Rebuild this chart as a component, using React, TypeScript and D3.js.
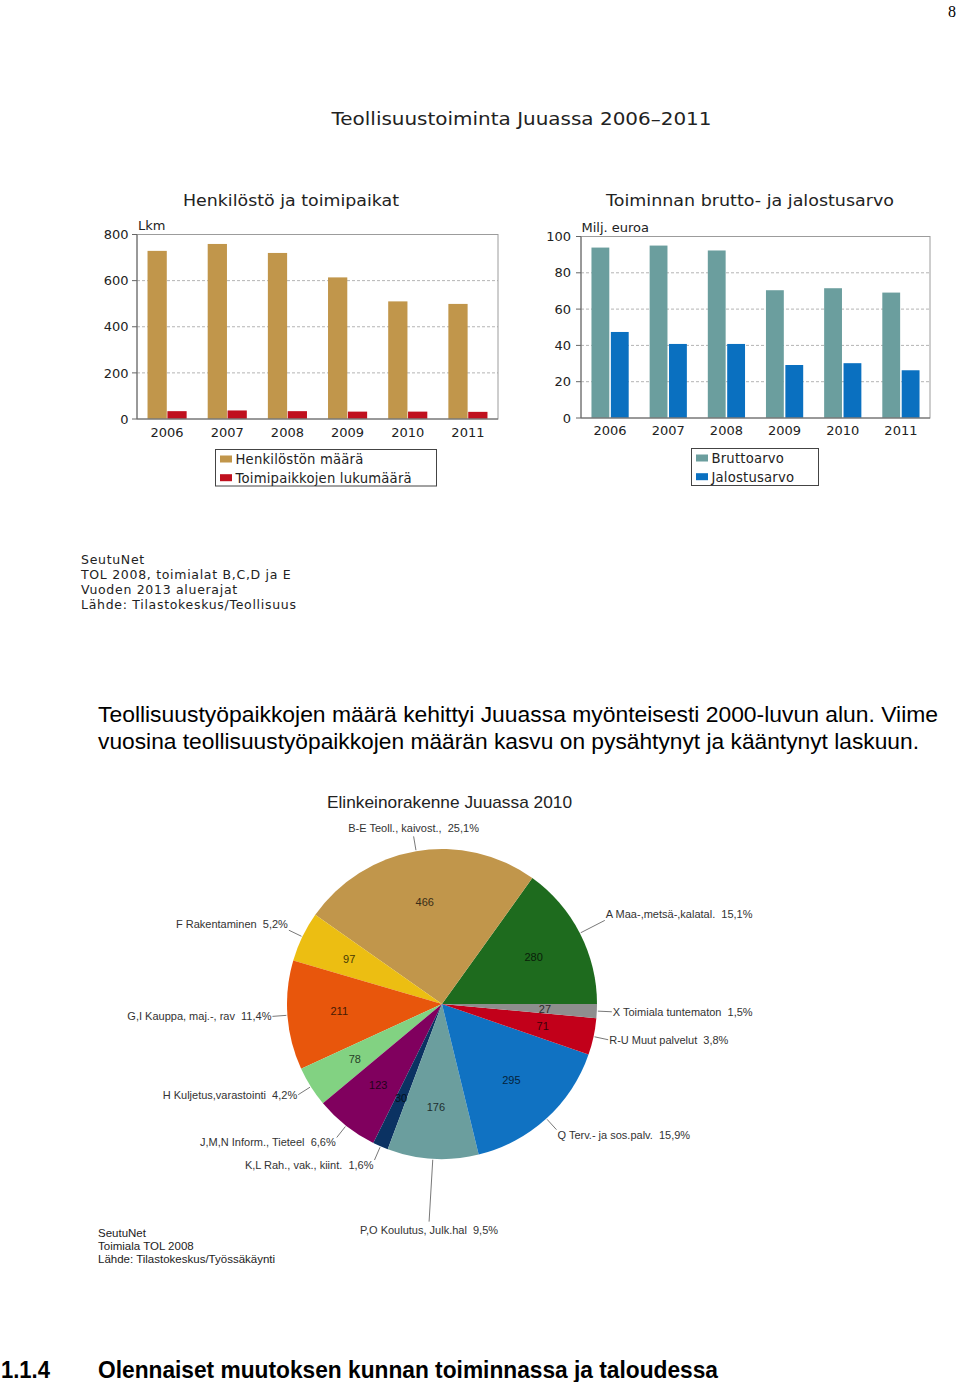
import React from "react";
import * as d3 from "d3";

// ---------- DATA ----------
const years = ["2006", "2007", "2008", "2009", "2010", "2011"];
const henkilostonMaara = [729, 759, 720, 614, 510, 499];
const toimipaikkojenLukumaara = [34, 37, 34, 32, 32, 31];
const personnelTicks = [0, 200, 400, 600, 800];

const bruttoarvo = [93.9, 95.0, 92.3, 70.4, 71.5, 69.1];
const jalostusarvo = [47.4, 40.8, 40.8, 29.2, 30.2, 26.3];
const valueTicks = [0, 20, 40, 60, 80, 100];

const sectorNames = [
  "A Maa-,metsä-,kalatal.",
  "B-E Teoll., kaivost.,",
  "F Rakentaminen",
  "G,I Kauppa, maj.-, rav",
  "H Kuljetus,varastointi",
  "J,M,N Inform., Tieteel",
  "K,L Rah., vak., kiint.",
  "P,O Koulutus, Julk.hal",
  "Q Terv.- ja sos.palv.",
  "R-U Muut palvelut",
  "X Toimiala tuntematon",
];
const sectorJobs = [280, 466, 97, 211, 78, 123, 30, 176, 295, 71, 27];
const sectorColors = [
  "#1E6B1E", "#C1964B", "#ECBE12", "#E8560C", "#82D282", "#80005E",
  "#0B3262", "#6B9E9E", "#1072C2", "#C2001A", "#8E8E8E",
];

const W = 960;
const H = 1382;
const SANS_V = "'DejaVu Sans', Verdana, sans-serif";
const ARIAL = "'Liberation Sans', Arial, sans-serif";

type BarProps = {
  left: number; right: number; top: number; bottom: number;
  maxV: number; ticks: number[];
  series: number[][]; colors: string[]; names: string[];
  title: string; titleX: number; titleW: number;
  unit: string; unitX: number; unitY: number;
  yearBaseline: number; tickRight: number;
  padInner: number; padOuter: number; barGap: number;
  legend: { x: number; y: number; w: number; h: number };
};

function GroupedBars(p: BarProps) {
  const x = d3.scaleBand<string>().domain(years).range([p.left, p.right])
    .paddingInner(p.padInner).paddingOuter(p.padOuter);
  const xi = d3.scaleBand<string>().domain(p.series.map((_, i) => String(i)))
    .range([0, x.bandwidth()]).paddingInner(p.barGap);
  const y = d3.scaleLinear().domain([0, p.maxV]).range([p.bottom, p.top]);
  return (
    <g>
      <text x={p.titleX} y={206} fontFamily={SANS_V} fontSize={15.5} fill="#222"
        textLength={p.titleW} lengthAdjust="spacingAndGlyphs">{p.title}</text>
      <text x={p.unitX} y={p.unitY} fontFamily={SANS_V} fontSize={13} fill="#222">{p.unit}</text>
      {p.ticks.filter((t) => t !== 0 && t !== p.maxV).map((t) => (
        <line key={"g" + t} x1={p.left} x2={p.right} y1={y(t)} y2={y(t)}
          stroke="#b4b4b4" strokeWidth={1} strokeDasharray="3,2" />
      ))}
      {p.series.map((vals, si) =>
        years.map((yr, i) => (
          <rect key={si + "-" + yr} x={(x(yr) as number) + (xi(String(si)) as number)}
            y={y(vals[i])} width={xi.bandwidth()} height={p.bottom - y(vals[i])}
            fill={p.colors[si]} />
        ))
      )}
      <rect x={p.left} y={p.top} width={p.right - p.left} height={p.bottom - p.top}
        fill="none" stroke="#9c9c9c" strokeWidth={1} />
      <line x1={p.left} x2={p.left} y1={p.top} y2={p.bottom} stroke="#666" />
      <line x1={p.left} x2={p.right} y1={p.bottom} y2={p.bottom} stroke="#666" />
      {p.ticks.map((t) => (
        <g key={"t" + t}>
          <line x1={p.left - 5} x2={p.left} y1={y(t)} y2={y(t)} stroke="#666" />
          <text x={p.tickRight} y={y(t)} dy="0.36em" textAnchor="end"
            fontFamily={SANS_V} fontSize={13} fill="#222">{t}</text>
        </g>
      ))}
      {years.map((yr) => (
        <text key={"x" + yr} x={(x(yr) as number) + x.bandwidth() / 2} y={p.yearBaseline}
          textAnchor="middle" fontFamily={SANS_V} fontSize={13} fill="#222">{yr}</text>
      ))}
      <rect x={p.legend.x} y={p.legend.y} width={p.legend.w} height={p.legend.h}
        fill="#fff" stroke="#444" strokeWidth={1} />
      {p.names.map((n, i) => (
        <g key={"l" + i}>
          <rect x={p.legend.x + 4.5} y={p.legend.y + 6 + i * 18.7} width={12} height={7}
            fill={p.colors[i]} />
          <text x={p.legend.x + 20} y={p.legend.y + 14 + i * 19} fontFamily={SANS_V}
            fontSize={13.2} fill="#222" letterSpacing={0.2}>{n}</text>
        </g>
      ))}
    </g>
  );
}

function Pie() {
  const cx = 442, cy = 1004, R = 155, labelR = 103;
  const total = d3.sum(sectorJobs);
  const pie = d3.pie<number>().sort(null).value((d) => d)
    .startAngle(Math.PI / 2).endAngle(Math.PI / 2 - 2 * Math.PI);
  const arcs = pie(sectorJobs);
  const arc = d3.arc<d3.PieArcDatum<number>>().innerRadius(0).outerRadius(R);
  const pt = (a: number, r: number) => [cx + r * Math.sin(a), cy - r * Math.cos(a)];
  const extraLeader: Record<number, number> = { 0: 28, 7: 63 };
  return (
    <g>
      <text x={327} y={808} fontFamily={ARIAL} fontSize={17} fill="#222"
        textLength={245} lengthAdjust="spacingAndGlyphs">Elinkeinorakenne Juuassa 2010</text>
      <g transform={`translate(${cx},${cy})`}>
        {arcs.map((a, i) => (
          <path key={i} d={arc(a) as string} fill={sectorColors[i]} />
        ))}
      </g>
      {arcs.map((a, i) => {
        const mid = (a.startAngle + a.endAngle) / 2;
        const [lx, ly] = pt(mid, labelR);
        const col = d3.interpolateRgb(sectorColors[i], "#000")(0.7);
        return (
          <text key={"v" + i} x={lx} y={ly} dy="0.35em" textAnchor="middle"
            fontFamily={ARIAL} fontSize={11} fill={col}>{sectorJobs[i]}</text>
        );
      })}
      {arcs.map((a, i) => {
        const mid = (a.startAngle + a.endAngle) / 2;
        const [x1, y1] = pt(mid, R + 1);
        const [x2, y2] = pt(mid, R + (extraLeader[i] ?? 15));
        const share = ((sectorJobs[i] / total) * 100).toFixed(1).replace(".", ",");
        const label = `${sectorNames[i]}  ${share}%`;
        const c = Math.cos(mid);
        const shift = c > 0.3 ? -6 : c < -0.6 ? 5 : 0;
        let tx = x2, ty = y2 + shift + 4, anchor: "start" | "end" | "middle" = "start";
        if (Math.abs(c) > 0.95) {
          anchor = "middle";
          ty = c > 0 ? y2 - 4 : y2 + 12;
        } else if (x2 > cx) {
          tx = x2 + 1;
        } else {
          anchor = "end";
          tx = x2 - 1;
        }
        return (
          <g key={"lab" + i}>
            <line x1={x1} y1={y1} x2={x2} y2={y2} stroke="#555" strokeWidth={0.8} />
            <text x={tx} y={ty} textAnchor={anchor} fontFamily={ARIAL} fontSize={11}
              fill="#333" style={{ whiteSpace: "pre" }}>{label}</text>
          </g>
        );
      })}
    </g>
  );
}

export default function App() {
  return (
    <svg width={W} height={H} viewBox={`0 0 ${W} ${H}`}
      style={{ position: "absolute", left: 0, top: 0, background: "#fff" }}>
      <rect width={W} height={H} fill="#fff" />
      <text x={952} y={17} textAnchor="middle" fontFamily="'Liberation Serif', 'DejaVu Serif', serif"
        fontSize={16} fill="#000">8</text>

      <text x={331.5} y={125} fontFamily={SANS_V} fontSize={18} fill="#222"
        textLength={380} lengthAdjust="spacingAndGlyphs">Teollisuustoiminta Juuassa 2006–2011</text>

      <GroupedBars left={137} right={498} top={234.5} bottom={419} maxV={800}
        ticks={personnelTicks} series={[henkilostonMaara, toimipaikkojenLukumaara]}
        colors={["#C1964B", "#C0101E"]} names={["Henkilöstön määrä", "Toimipaikkojen lukumäärä"]}
        title="Henkilöstö ja toimipaikat" titleX={183} titleW={216}
        unit="Lkm" unitX={138} unitY={229.5} yearBaseline={437} tickRight={128.5}
        padInner={0.35} padOuter={0.175} barGap={0.03}
        legend={{ x: 215.5, y: 449.5, w: 221, h: 36.5 }} />

      <GroupedBars left={581} right={930} top={236.5} bottom={418} maxV={100}
        ticks={valueTicks} series={[bruttoarvo, jalostusarvo]}
        colors={["#6B9E9E", "#0A70C0"]} names={["Bruttoarvo", "Jalostusarvo"]}
        title="Toiminnan brutto- ja jalostusarvo" titleX={606} titleW={288}
        unit="Milj. euroa" unitX={581.5} unitY={231.5} yearBaseline={435} tickRight={571}
        padInner={0.36} padOuter={0.18} barGap={0.08}
        legend={{ x: 691.5, y: 448.5, w: 127, h: 37 }} />

      <g fontFamily={SANS_V} fontSize={12.5} fill="#222" letterSpacing={0.7}>
        <text x={81} y={564}>SeutuNet</text>
        <text x={81} y={579}>TOL 2008, toimialat B,C,D ja E</text>
        <text x={81} y={594}>Vuoden 2013 aluerajat</text>
        <text x={81} y={609}>Lähde: Tilastokeskus/Teollisuus</text>
      </g>

      <g fontFamily={ARIAL} fontSize={22} fill="#000">
        <text x={98} y={722} textLength={840} lengthAdjust="spacingAndGlyphs">
          Teollisuustyöpaikkojen määrä kehittyi Juuassa myönteisesti 2000-luvun alun. Viime
        </text>
        <text x={98} y={748.5} textLength={821} lengthAdjust="spacingAndGlyphs">
          vuosina teollisuustyöpaikkojen määrän kasvu on pysähtynyt ja kääntynyt laskuun.
        </text>
      </g>

      <Pie />

      <g fontFamily={ARIAL} fontSize={11.5} fill="#222">
        <text x={98} y={1236.5}>SeutuNet</text>
        <text x={98} y={1250}>Toimiala TOL 2008</text>
        <text x={98} y={1263}>Lähde: Tilastokeskus/Työssäkäynti</text>
      </g>

      <g fontFamily="'Liberation Sans Narrow', 'Liberation Sans', Arial, sans-serif"
        fontSize={24} fontWeight="bold" fill="#000">
        <text x={1} y={1378} textLength={49} lengthAdjust="spacingAndGlyphs">1.1.4</text>
        <text x={98} y={1378} textLength={620} lengthAdjust="spacingAndGlyphs">
          Olennaiset muutoksen kunnan toiminnassa ja taloudessa
        </text>
      </g>
    </svg>
  );
}
